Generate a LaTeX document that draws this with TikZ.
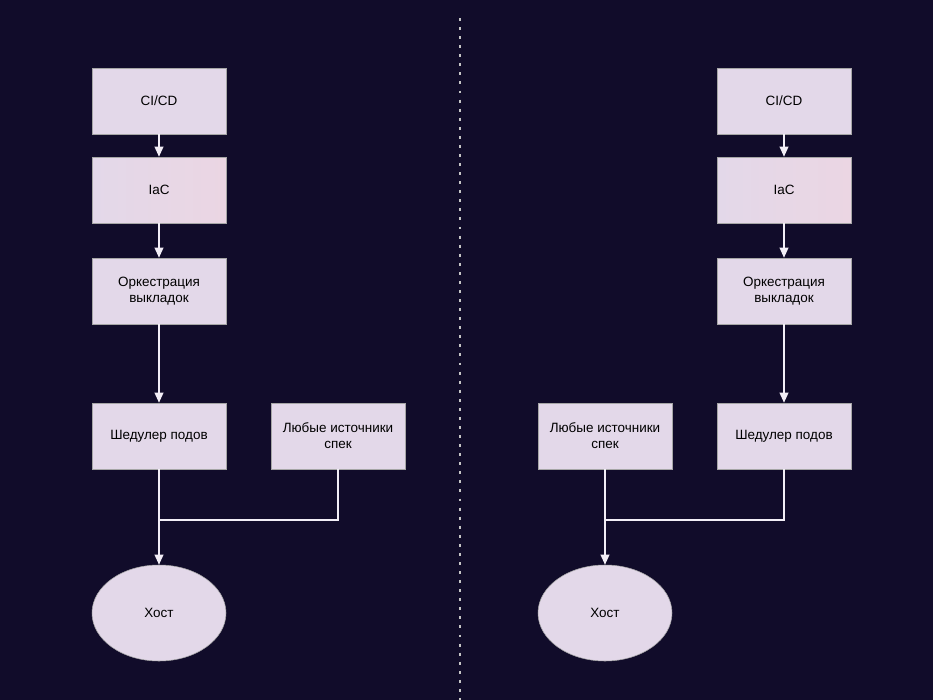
\documentclass[tikz,border=0pt]{standalone}
\usepackage{fontspec}
\setmainfont{Liberation Sans}
\usetikzlibrary{shapes.geometric,arrows.meta}
\definecolor{bg}{HTML}{110C2A}
\definecolor{boxfill}{HTML}{E3D8E9}
\definecolor{boxpink}{HTML}{EBD6E3}
\definecolor{edge}{HTML}{F2EEF6}
\begin{document}
\begin{tikzpicture}[x=0.75pt,y=-0.75pt,
			font=\fontsize{10.1}{12}\selectfont]
		\tikzstyle{block}=[rectangle, draw=gray!70, fill=boxfill, minimum width=100.5pt, minimum height=49.5pt, align=center, inner sep=0pt]
		\tikzstyle{pinkblock}=[block, left color=boxfill, right color=boxpink]
		\tikzstyle{host}=[ellipse, draw=gray!70, fill=boxfill, minimum width=100.5pt, minimum height=72pt, inner sep=0pt]
		\tikzstyle{link}=[draw=edge, line width=1.1pt, -{Triangle[width=6.5pt,length=7.5pt]}]
		\tikzstyle{merge}=[draw=edge, line width=1.1pt]

		\fill[bg] (0,0) rectangle (933,700);
		\useasboundingbox (0,0) rectangle (933,700);

		% divider
		\draw[gray!45!white, line width=2.2pt, dash pattern=on 2.2pt off 4.6pt] (460,18) -- (460,700);

		% left: scheduler fed by orchestration
		\node[block] (ciL) at (159,101) {CI/CD};
		\node[pinkblock] (iacL) at (159,190) {IaC};
		\node[block] (orchL) at (159,291) {Оркестрация\\выкладок};
		\node[block] (schedL) at (159,436) {Шедулер подов};
		\node[block] (srcL) at (338,436) {Любые источники\\спек};
		\node[host] (hostL) at (159,613) {Хост};
		\coordinate (jL) at (159,520);

		\draw[link] (ciL) -- (iacL);
		\draw[link] (iacL) -- (orchL);
		\draw[link] (orchL) -- (schedL);
		\draw[link] (schedL) -- (hostL);
		\draw[merge] (srcL.south) |- (jL);

		% right: mirrored
		\node[block] (ciR) at (784,101) {CI/CD};
		\node[pinkblock] (iacR) at (784,190) {IaC};
		\node[block] (orchR) at (784,291) {Оркестрация\\выкладок};
		\node[block] (schedR) at (784,436) {Шедулер подов};
		\node[block] (srcR) at (605,436) {Любые источники\\спек};
		\node[host] (hostR) at (605,613) {Хост};
		\coordinate (jR) at (605,520);

		\draw[link] (ciR) -- (iacR);
		\draw[link] (iacR) -- (orchR);
		\draw[link] (orchR) -- (schedR);
		\draw[link] (srcR) -- (hostR);
		\draw[merge] (schedR.south) |- (jR);

\end{tikzpicture}
\end{document}
